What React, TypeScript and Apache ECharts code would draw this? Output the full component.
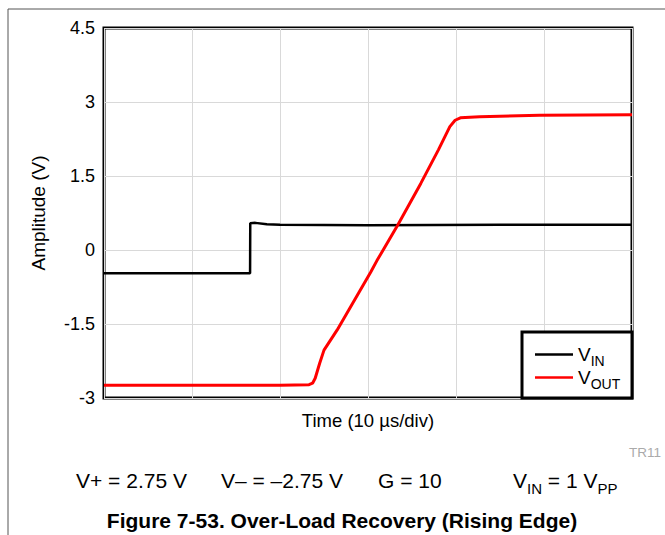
import React, { useEffect, useRef } from "react";
import * as echarts from "echarts";

const vinData: [number, number][] = [
  [0, -0.47], [16.6, -0.47], [16.62, 0.54], [17.2, 0.55], [18.5, 0.52], [20, 0.51], [30, 0.5], [45, 0.51], [60, 0.51],
];

const voutData: [number, number][] = [
  [0, -2.74], [10, -2.74], [20, -2.74], [23.3, -2.73], [23.7, -2.7], [24.0, -2.6], [24.5, -2.3], [25.0, -2.03],
  [26.5, -1.62], [29.0, -0.85], [30.3, -0.45], [31.0, -0.22], [33.4, 0.51], [36.0, 1.35], [38.0, 2.03],
  [39.3, 2.5], [39.9, 2.63], [40.5, 2.68], [42.7, 2.7], [49.5, 2.73], [60, 2.74],
];

const yTicks = [-3, -1.5, 0, 1.5, 3, 4.5];
const seriesNames = ["VIN", "VOUT"];
const conditions = ["V+ = 2.75 V", "V– = –2.75 V", "G = 10"];
const figureTitle = "Figure 7-53. Over-Load Recovery (Rising Edge)";

const FONT = "Liberation Sans, Arial, Helvetica, sans-serif";

export default function App() {
  const ref = useRef<HTMLDivElement>(null);
  useEffect(() => {
    const chart = echarts.init(ref.current!, null, { renderer: "svg" });
    chart.setOption({
      animation: false,
      backgroundColor: "#ffffff",
      grid: {
        left: 104, top: 28, right: 33, bottom: 137,
        show: true, borderColor: "#000", borderWidth: 3, backgroundColor: "transparent",
      },
      xAxis: {
        type: "value", min: 0, max: 60, interval: 10,
        axisLine: { show: false }, axisTick: { show: false }, axisLabel: { show: false },
        splitLine: { show: true, lineStyle: { color: "#d9d9d9", width: 1 } },
        name: "Time (10 µs/div)", nameLocation: "middle", nameGap: 13,
        nameTextStyle: { fontFamily: FONT, fontSize: 18.5, color: "#000", verticalAlign: "top" },
      },
      yAxis: {
        type: "value", min: yTicks[0], max: yTicks[yTicks.length - 1], interval: 1.5,
        axisLine: { show: false }, axisTick: { show: false },
        axisLabel: { fontFamily: FONT, fontSize: 18, color: "#000", margin: 9 },
        splitLine: { show: true, lineStyle: { color: "#d9d9d9", width: 1 } },
        name: "Amplitude (V)", nameLocation: "middle", nameGap: 56, nameRotate: 90,
        nameTextStyle: { fontFamily: FONT, fontSize: 19, color: "#000" },
      },
      legend: {
        orient: "vertical", left: 530, top: 340, itemWidth: 38, itemHeight: 10, itemGap: 0, z: 10,
        icon: "path://M0,4 L38,4 L38,6.5 L0,6.5 Z",
        data: seriesNames,
        formatter: (n: string) => `{a|V}{b|${n.slice(1)}}`,
        textStyle: {
          fontFamily: FONT, color: "#000",
          rich: {
            a: { fontSize: 19, fontFamily: FONT, color: "#000", verticalAlign: "bottom" },
            b: { fontSize: 14, fontFamily: FONT, color: "#000", verticalAlign: "bottom", padding: [0, 0, -4, 0] },
          },
        },
      },
      series: [
        { name: seriesNames[0], type: "line", data: vinData, showSymbol: false, lineStyle: { color: "#000", width: 2.5 }, itemStyle: { color: "#000" }, z: 3 },
        { name: seriesNames[1], type: "line", data: voutData, showSymbol: false, lineStyle: { color: "#ff0000", width: 3 }, itemStyle: { color: "#ff0000" }, z: 4 },
      ],
      graphic: [
        { type: "line", shape: { x1: 8, y1: 9, x2: 665, y2: 9 }, style: { stroke: "#555", lineWidth: 1 } },
        { type: "line", shape: { x1: 8, y1: 9, x2: 8, y2: 535 }, style: { stroke: "#555", lineWidth: 1 } },
        { type: "rect", z: 3, shape: { x: 522, y: 332, width: 110, height: 66 }, style: { fill: "#fff", stroke: "#000", lineWidth: 3 } },
        { type: "text", x: 661, y: 452, style: { text: "TR11", fontFamily: FONT, fontSize: 13.5, fill: "#aaaaaa", align: "right", verticalAlign: "middle" } },
        { type: "text", x: 76, y: 480, style: { text: conditions[0], fontFamily: FONT, fontSize: 21, fill: "#000", verticalAlign: "middle" } },
        { type: "text", x: 221, y: 480, style: { text: conditions[1], fontFamily: FONT, fontSize: 21, fill: "#000", verticalAlign: "middle" } },
        { type: "text", x: 378, y: 480, style: { text: conditions[2], fontFamily: FONT, fontSize: 21, fill: "#000", verticalAlign: "middle" } },
        {
          type: "text", x: 513, y: 480,
          style: {
            text: "{a|V}{b|IN}{a| = 1 V}{b|PP}", fontFamily: FONT, verticalAlign: "middle",
            rich: {
              a: { fontSize: 21, fontFamily: FONT, fill: "#000", verticalAlign: "bottom" },
              b: { fontSize: 15, fontFamily: FONT, fill: "#000", verticalAlign: "bottom", padding: [0, 0, -5, 0] },
            },
          },
        },
        { type: "text", x: 342, y: 520, style: { text: figureTitle, fontFamily: FONT, fontSize: 21, fontWeight: "bold", fill: "#000", align: "center", verticalAlign: "middle" } },
      ],
    });
    return () => chart.dispose();
  }, []);
  return <div ref={ref} style={{ width: 665, height: 535, position: "absolute", left: 0, top: 0 }} />;
}
